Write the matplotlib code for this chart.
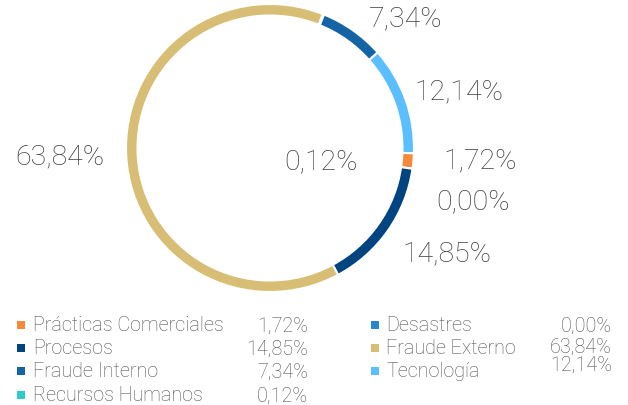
import matplotlib
matplotlib.use("Agg")
import matplotlib.pyplot as plt

categories = ["Fraude Interno", "Tecnología", "Prácticas Comerciales", "Desastres",
              "Procesos", "Fraude Externo", "Recursos Humanos"]
values = [7.34, 12.14, 1.72, 0.00, 14.85, 63.84, 0.12]
labels = ["7,34%", "12,14%", "1,72%", "0,00%", "14,85%", "63,84%", "0,12%"]
colors = ["#1464A5", "#5BBEFF", "#F7893B", "#2A86CA", "#004481", "#D8BE75", "#2DCCCD"]

legend_order = ["Prácticas Comerciales", "Desastres", "Procesos", "Fraude Externo",
                "Fraude Interno", "Tecnología", "Recursos Humanos"]

fam = ["Roboto", "DejaVu Sans"]
W, H = 628, 406
fig = plt.figure(figsize=(W / 100, H / 100), dpi=100)

cx, cy, R = 270, 149, 144
ax = fig.add_axes([(cx - R) / W, (H - cy - R) / H, 2 * R / W, 2 * R / H])
ax.pie(values, colors=colors, startangle=68, counterclock=False, radius=1,
       wedgeprops=dict(width=0.08, edgecolor="white", linewidth=1.5))
ax.set_xlim(-1, 1)
ax.set_ylim(-1, 1)
ax.set_aspect("equal")
ax.axis("off")

label_pos = [(0.944, 0.903), (1.3125, 0.396), (1.458, -0.083), (1.41, -0.368),
             (1.229, -0.729), (-1.458, -0.056), (0.354, -0.09)]
for lab, (x, y) in zip(labels, label_pos):
    ax.text(x, y, lab, ha="center", va="center", fontsize=20.5, color="#3d3d3d",
            family=fam, fontweight="light", clip_on=False)

# legend
lax = fig.add_axes([0, 0, 1, 1])
lax.set_xlim(0, W)
lax.set_ylim(H, 0)
lax.axis("off")
col_x = [(21, 33, 308), (375, 386, 612)]
rows_y = [326, 349, 372, 396]
val_dy = {"Fraude Externo": -2, "Tecnología": -7}
for i, name in enumerate(legend_order):
    col = i % 2
    row = i // 2
    mx, tx, vx = col_x[col]
    y = rows_y[row]
    c = colors[categories.index(name)]
    lax.scatter([mx], [y], marker="s", s=40, color=c, linewidths=0)
    lax.text(tx, y, name, ha="left", va="center", fontsize=14.2, color="#505050",
             family=fam, fontweight="light")
    v = labels[categories.index(name)]
    lax.text(vx, y + val_dy.get(name, 0), v, ha="right", va="center", fontsize=14.2,
             color="#505050", family=fam, fontweight="light")

fig.savefig("out.png", dpi=100)
